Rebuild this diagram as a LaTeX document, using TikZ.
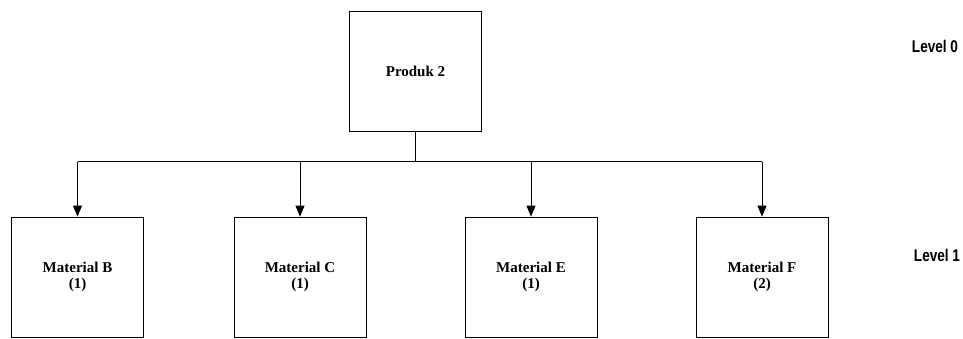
\documentclass[tikz,border=0pt]{standalone}
\usepackage{fontspec}
\setmainfont{Liberation Serif}
\newfontfamily\levelfont{Liberation Sans}
\usetikzlibrary{arrows.meta}
\begin{document}
\begin{tikzpicture}[x=1pt,y=-1pt,
  itembox/.style={draw, line width=0.8pt, minimum width=132pt, minimum height=120pt,
    inner sep=0pt, align=center, font=\fontsize{15}{16}\selectfont\bfseries},
  link/.style={line width=0.8pt},
  feed/.style={line width=0.8pt, -{Triangle[width=9pt,length=11pt]}},
  levellabel/.style={font=\levelfont\bfseries\fontsize{17}{18}\selectfont, inner sep=0pt}]
  \useasboundingbox (0,0) rectangle (963,338);

  % top-level product
  \node[itembox] (p2) at (415.5,71) {Produk 2};

  % level-1 materials
  \node[itembox] (mb) at (77.5,277) {Material B\\(1)};
  \node[itembox] (mc) at (300,277) {Material C\\(1)};
  \node[itembox] (me) at (531,277) {Material E\\(1)};
  \node[itembox] (mf) at (762,277) {Material F\\(2)};

  % branch bar
  \coordinate (hub) at (415.5,161.5);
  \coordinate (bl) at (77.5,161.5);
  \coordinate (br) at (762,161.5);
  \draw[link] (p2.south) -- (hub);
  \draw[link] (bl) -- (br);
  \draw[feed] (bl) -- (mb.north);
  \draw[feed] (mc.north |- hub) -- (mc.north);
  \draw[feed] (me.north |- hub) -- (me.north);
  \draw[feed] (br) -- (mf.north);

  % level captions
  \node[levellabel, xscale=0.8] (lv0) at (935,46) {Level 0};
  \node[levellabel, xscale=0.8] (lv1) at (937,255) {Level 1};
\end{tikzpicture}
\end{document}
